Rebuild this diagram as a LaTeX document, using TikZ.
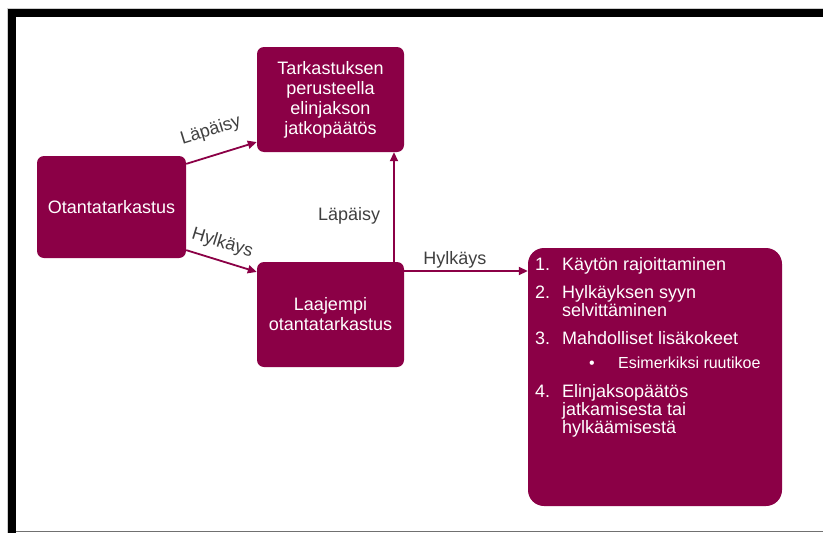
\documentclass[tikz,border=0pt]{standalone}
\usepackage{fontspec}
\setmainfont{Liberation Sans}
\usetikzlibrary{arrows.meta}
\definecolor{plum}{RGB}{139,0,70}
\definecolor{labelgray}{RGB}{64,64,64}
\definecolor{framegray}{RGB}{205,205,205}
\definecolor{rulegray}{RGB}{112,112,112}

\begin{document}
\begin{tikzpicture}[x=1pt,y=-1pt,
  box/.style={fill=plum, rounded corners=7pt, text=white, align=center,
    inner sep=0pt, font=\fontsize{18}{20}\selectfont},
  flow/.style={draw=plum, line width=1.8pt, -{Triangle[length=9pt,width=8pt]}},
  lbl/.style={text=labelgray, inner sep=0pt, font=\fontsize{18}{20}\selectfont},
  item/.style={text=white, anchor=base west, inner sep=0pt,
    font=\fontsize{18}{20}\selectfont},
  subitem/.style={item, font=\fontsize{16}{18}\selectfont},
]
\useasboundingbox (0,0) rectangle (823,533);
\fill[white] (0,0) rectangle (823,533);

% page frame
\draw[framegray, line width=1pt] (7.5,533) -- (7.5,8.5) -- (823,8.5);
\fill[black] (8,9) rectangle (16,533);
\fill[black] (8,9) rectangle (823,16.5);
\draw[rulegray, line width=1.3pt] (16,531.3) -- (823,531.3);

% process boxes
\node[box, minimum width=149pt, minimum height=102pt] (A) at (111.5,207)
  {Otantatarkastus};
\node[box, minimum width=147pt, minimum height=105pt] (B) at (330.5,99.5)
  {Tarkastuksen\\perusteella\\elinjakson\\jatkopäätös};
\node[box, minimum width=147pt, minimum height=105pt] (C) at (330.5,314.5)
  {Laajempi\\otantatarkastus};
\node[box, rounded corners=16pt, minimum width=254pt, minimum height=258pt]
  (D) at (655,377) {};

% connectors
\draw[flow] (A.30) -- (B.210)
  node[lbl, sloped, above=15pt, pos=0.45] (l1) {Läpäisy};
\draw[flow] (A.-30) -- (C.150)
  node[lbl, sloped, above=8pt, pos=0.44] (l2) {Hylkäys};
\draw[flow] ([xshift=63.5pt]C.north) -- ([xshift=63.5pt]B.south)
  node[lbl, left=13pt, pos=0.42] (l3) {Läpäisy};
\coordinate (cd) at ([yshift=43.5pt]C.east);
\draw[flow] (cd) -- (cd -| D.west)
  node[lbl, above=2pt, pos=0.41] (l4) {Hylkäys};

% follow-up steps
\node[item] (n1) at (535,270) {1.};
\node[item] (t1) at (562,270) {Käytön rajoittaminen};
\node[item] (n2) at (535,298.3) {2.};
\node[item] (t2a) at (562,298.3) {Hylkäyksen syyn};
\node[item] (t2b) at (562,316.7) {selvittäminen};
\node[item] (n3) at (535,344) {3.};
\node[item] (t3) at (562,344) {Mahdolliset lisäkokeet};
\node[subitem] (b3) at (589,368.3) {•};
\node[subitem] (s3) at (618,368.3) {Esimerkiksi ruutikoe};
\node[item] (n4) at (535,397.5) {4.};
\node[item] (t4a) at (562,397.5) {Elinjaksopäätös};
\node[item] (t4b) at (562,415.5) {jatkamisesta tai};
\node[item] (t4c) at (562,433.5) {hylkäämisestä};
\end{tikzpicture}
\end{document}
